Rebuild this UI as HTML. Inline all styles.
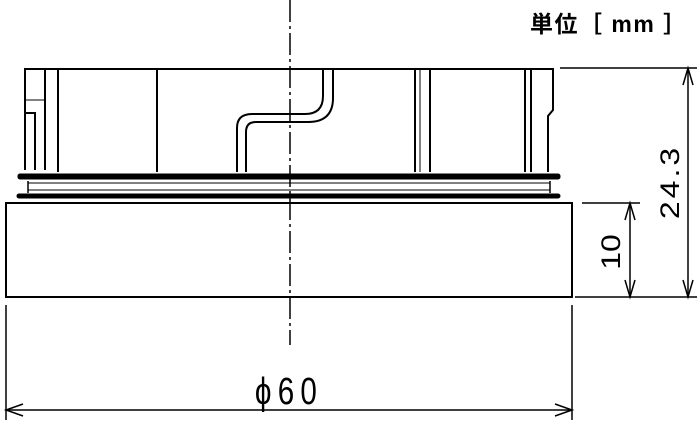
<!DOCTYPE html>
<html><head><meta charset="utf-8"><style>
html,body{margin:0;padding:0;background:#fff;}
svg{display:block}
</style></head><body>
<svg width="700" height="426" viewBox="0 0 700 426" xmlns="http://www.w3.org/2000/svg" font-family="'Liberation Sans','Noto Sans CJK JP',sans-serif">
<g stroke="#000" fill="none" stroke-width="2">
<polyline points="25,170 25,69 553,69 553,110 548,116 548,172"/>
<polyline points="25,113 35,113 35,170"/>
<line x1="45" y1="69" x2="45" y2="170"/>
<line x1="25" y1="100" x2="45" y2="100" stroke-width="1"/>
<line x1="58" y1="69" x2="58" y2="172"/>
<line x1="157" y1="69" x2="157" y2="172"/>
<line x1="415" y1="69" x2="415" y2="172"/>
<line x1="420" y1="69" x2="420" y2="172" stroke-width="1"/>
<line x1="430" y1="69" x2="430" y2="172"/>
<line x1="525" y1="69" x2="525" y2="172"/>
<line x1="531" y1="69" x2="531" y2="172"/>
<path d="M237,172 V128 Q237,114 252,114 H305 Q323,114 323,96 V69"/>
<path d="M246,172 V132 Q246,122 256,122 H308 Q333,122 333,98 V69"/>
<rect x="18" y="174" width="542" height="5" rx="2" fill="#000" stroke-width="1"/>
<line x1="28" y1="181" x2="28" y2="193" stroke-width="1.5"/>
<line x1="550" y1="181" x2="550" y2="193" stroke-width="1.5"/>
<line x1="28" y1="183" x2="550" y2="183" stroke-width="1"/>
<line x1="28" y1="190" x2="550" y2="190" stroke-width="1"/>
<rect x="17" y="194" width="543" height="4" rx="2" fill="#000" stroke-width="1"/>
<rect x="6" y="203" width="566" height="94" stroke-width="2"/>
<line x1="290" y1="0" x2="290" y2="345" stroke-width="1.5" stroke-dasharray="22,4,3,4"/>
<line x1="560" y1="68" x2="697" y2="68" stroke-width="1.5"/>
<line x1="582" y1="203" x2="640" y2="203" stroke-width="1.5"/>
<line x1="575" y1="297" x2="697" y2="297" stroke-width="1.5"/>
<line x1="688" y1="68" x2="688" y2="297" stroke-width="1.5"/>
<polyline points="683,85 688,68 693,85" stroke-width="1.5"/>
<polyline points="683,280 688,297 693,280" stroke-width="1.5"/>
<line x1="630" y1="203" x2="630" y2="297" stroke-width="1.5"/>
<polyline points="625,220 630,203 635,220" stroke-width="1.5"/>
<polyline points="625,280 630,297 635,280" stroke-width="1.5"/>
<line x1="6" y1="305" x2="6" y2="420" stroke-width="1.5"/>
<line x1="572" y1="305" x2="572" y2="420" stroke-width="1.5"/>
<line x1="6" y1="410" x2="572" y2="410" stroke-width="1.5"/>
<polyline points="23,404 6,410 23,416" stroke-width="1.5"/>
<polyline points="555,404 572,410 555,416" stroke-width="1.5"/>
</g>
<g fill="#000">
<text transform="translate(289,404) scale(0.78,1)" font-size="38" text-anchor="middle" letter-spacing="8">ϕ60</text>
<text transform="translate(620,252) rotate(-90) scale(1,0.85)" font-size="32" text-anchor="middle">10</text>
<text transform="translate(679,182) rotate(-90) scale(1,0.85)" font-size="32" text-anchor="middle" letter-spacing="3">24.3</text>
<text x="530" y="32" font-size="23" font-weight="bold" letter-spacing="1.5">単位［ mm ］</text>
</g>
</svg>
</body></html>
